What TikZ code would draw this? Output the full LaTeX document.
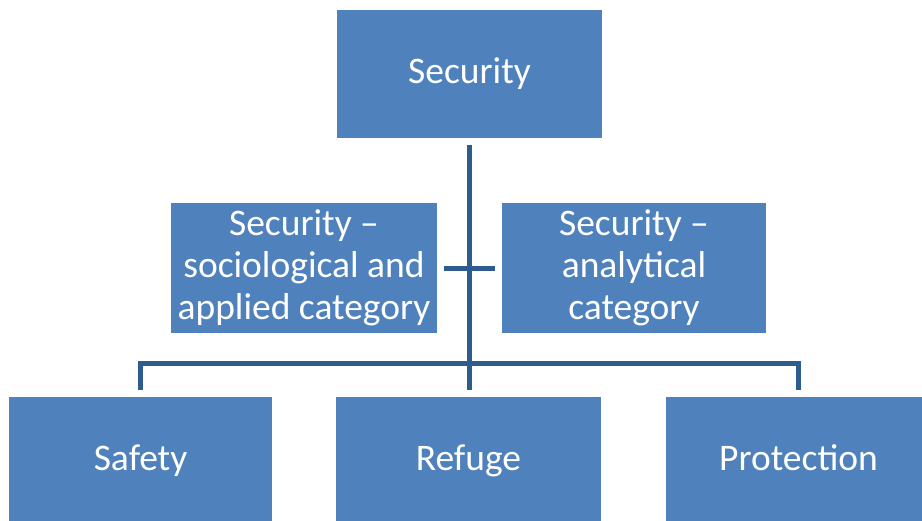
\documentclass[tikz,border=0pt]{standalone}
\usepackage{fontspec}
\setmainfont{Carlito}
\definecolor{boxblue}{HTML}{4F81BD}
\definecolor{linkblue}{HTML}{2F5C8E}
\begin{document}
\begin{tikzpicture}[x=1pt,y=-1pt,
  box/.style={fill=boxblue,draw=none,inner sep=0pt,text=white,align=center,
    font=\fontsize{37.5}{42}\selectfont},
  single/.style={box,text height=26pt,text depth=8pt},
  conn/.style={draw=linkblue,line width=5pt}]
\useasboundingbox (0,0) rectangle (922,520);
\clip (0,0) rectangle (922,520);
\node[single,minimum width=265pt,minimum height=128pt] (top) at (469.5,74) {Security};
\node[box,minimum width=266pt,minimum height=130pt] (ml) at (304,268) {Security –\\sociological and\\applied category};
\node[box,minimum width=264pt,minimum height=130pt] (mr) at (634,268) {Security –\\analytical\\category};
\node[single,minimum width=263pt,minimum height=128pt] (safety) at (140.5,461) {Safety};
\node[single,minimum width=265pt,minimum height=128pt] (refuge) at (468.5,461) {Refuge};
\node[single,minimum width=265pt,minimum height=128pt] (prot) at (798.5,461) {Protection};
\coordinate (bar) at (469,363);
\draw[conn,shorten <=7pt,shorten >=7pt] (top.south -| bar) -- (refuge.north -| bar);
\draw[conn,shorten <=7pt,shorten >=7pt] (ml.east) -- (mr.west);
\draw[conn,shorten >=7pt] (bar) -| (safety.north);
\draw[conn,shorten >=7pt] (bar) -| (prot.north);
\end{tikzpicture}
\end{document}
